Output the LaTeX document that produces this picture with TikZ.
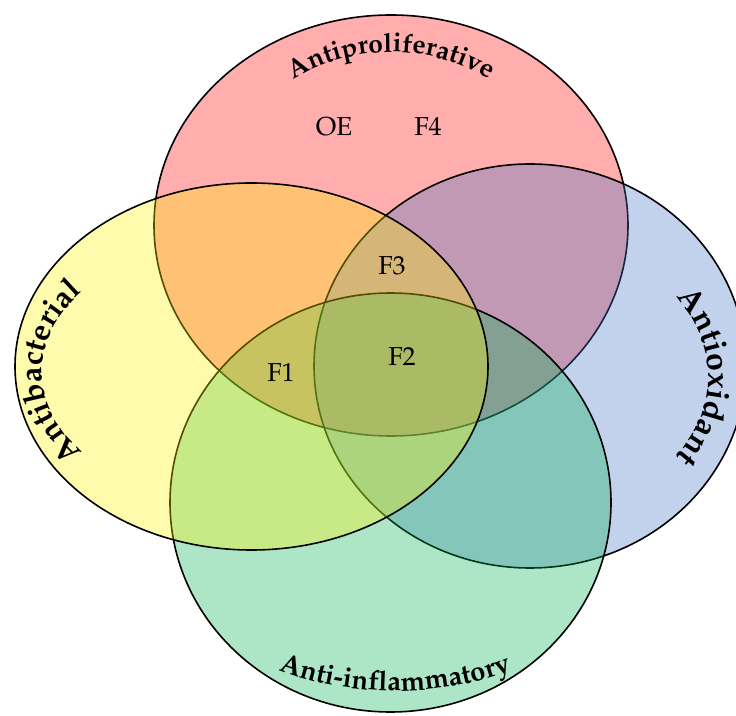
\documentclass[tikz,border=0pt]{standalone}
\usepackage[T1]{fontenc}
\usepackage{mathpazo}
\usepackage{xcolor}
\usetikzlibrary{decorations.text}

\definecolor{antiblue}{HTML}{4472C4}
\definecolor{antigreen}{HTML}{00B050}

\begin{document}
\begin{tikzpicture}[
        x=1pt, y=1pt,
        venn/.style={draw=black, line width=1.6pt, fill opacity=0.32},
        curved/.style 2 args={decorate, decoration={text along path, text align=center, text={|\fontsize{#1}{#1}\selectfont\bfseries|#2}}},
        region/.style={font=\fontsize{26}{26}\selectfont, inner sep=0pt}
        ]

        \clip (0,0) rectangle (736,715);

        \coordinate (cpro) at (391,489.5);
        \coordinate (cbac) at (251.5,348.5);
        \coordinate (coxi) at (530,349);
        \coordinate (cinf) at (390.5,212.5);

        % the four sets
        \draw [venn, fill=red] (cpro) ellipse [x radius=237pt, y radius=210.5pt];
        \draw [venn, fill=antiblue] (coxi) ellipse [x radius=216pt, y radius=202pt];
        \draw [venn, fill=antigreen] (cinf) ellipse [x radius=220.5pt, y radius=209.5pt];
        \draw [venn, fill=yellow] (cbac) ellipse [x radius=236.5pt, y radius=183.5pt];

        % set names along the borders
        \path [curved={26.5}{Antiproliferative}] (391,487) ++(165:182pt and 176pt) arc [start angle=165, end angle=15, x radius=182pt, y radius=176pt];
        \path [curved={31}{Antibacterial}] (251.5,343) ++(245:210pt and 135pt) arc [start angle=245, end angle=115, x radius=210pt, y radius=135pt];
        \path [curved={32}{Antioxidant}] (530,338) ++(65:178pt and 140pt) arc [start angle=65, end angle=-65, x radius=178pt, y radius=140pt];
        \path [curved={27.5}{Anti-inflammatory}] (395,213) ++(220:255pt and 189pt) arc [start angle=220, end angle=320, x radius=255pt, y radius=189pt];

        % fractions
        \node (oe) [region] at (334,588) {OE};
        \node (f4) [region] at (428,588) {F4};
        \node (f3) [region] at (392,449) {F3};
        \node (f1) [region] at (281,342) {F1};
        \node (f2) [region] at (402,358) {F2};

    \end{tikzpicture}
\end{document}
